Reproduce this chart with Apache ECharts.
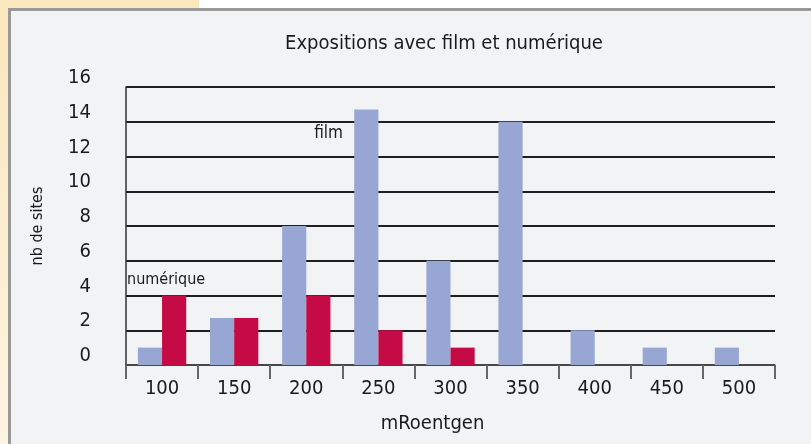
<!DOCTYPE html>
<html>
<head>
<meta charset="utf-8">
<script src="https://cdn.jsdelivr.net/npm/echarts@6/dist/echarts.min.js"></script>
<style>
    html, body {margin: 0; padding: 0;}
    body {width: 811px; height: 444px; position: relative; overflow: hidden;
        background: linear-gradient(#fae6bc, #fdf4e2);}
    .top-white {position: absolute; left: 199px; top: 0; width: 612px; height: 8px; background: #fff;}
    .frame {position: absolute; left: 8px; top: 8px; right: 0; bottom: 0;
        background: #f2f3f5; border-left: 3px solid #999; border-top: 3px solid #999;}
    #main {position: absolute; left: 0; top: 0; width: 811px; height: 444px;}
</style>
</head>
<body>
<div class="top-white"></div>
<div class="frame"></div>
<div id="main"></div>
<script>
    const categories = ['100', '150', '200', '250', '300', '350', '400', '450', '500'];
    const film = [1, 2.7, 8, 14.7, 6, 14, 2, 1, 1];
    const numerique = [4, 2.7, 4, 2, 1, 0, 0, 0, 0];
    const yTicks = {min: 0, max: 16, interval: 2};

    const font = "'DejaVu Sans Condensed', 'DejaVu Sans', sans-serif";
    const ink = '#1a1a1a';
    const myChart = echarts.init(document.getElementById('main'));
    myChart.setOption({
        backgroundColor: 'transparent',
        animation: false,
        title: {
            text: 'Expositions avec film et numérique',
            left: 439,
            top: 29,
            textAlign: 'center',
            textStyle: {fontFamily: font, fontSize: 20, fontWeight: 'normal', color: ink}
        },
        grid: {left: 126, right: 36, top: 87, bottom: 79},
        xAxis: {
            type: 'category',
            data: categories,
            name: 'mRoentgen',
            nameLocation: 'middle',
            nameGap: 49,
            nameTextStyle: {fontFamily: font, fontSize: 20, color: ink, padding: [0, 36, 0, 0]},
            axisLine: {lineStyle: {color: '#555', width: 1.5}},
            axisTick: {show: true, length: 14, lineStyle: {color: '#666', width: 2}},
            axisLabel: {fontFamily: font, fontSize: 20, color: ink, margin: 14},
            splitLine: {show: false}
        },
        yAxis: {
            type: 'value',
            min: yTicks.min,
            max: yTicks.max,
            interval: yTicks.interval,
            name: 'nb de sites',
            nameLocation: 'middle',
            nameGap: 80,
            nameTextStyle: {fontFamily: font, fontSize: 16, color: ink},
            axisLine: {show: true, lineStyle: {color: '#333', width: 1.5}},
            axisTick: {show: false},
            axisLabel: {fontFamily: font, fontSize: 20, color: ink, margin: 35,
                verticalAlign: 'bottom', lineHeight: 18},
            splitLine: {lineStyle: {color: '#1e1e1e', width: 2}}
        },
        series: [
            {
                name: 'film',
                type: 'bar',
                data: film,
                barGap: '0%',
                barCategoryGap: '33%',
                itemStyle: {color: '#98a6d4'}
            },
            {
                name: 'numérique',
                type: 'bar',
                data: numerique,
                barGap: '0%',
                barCategoryGap: '33%',
                itemStyle: {color: '#c50b46'}
            }
        ],
        graphic: [
            {type: 'text', right: 811 - 343, top: 125,
                style: {text: 'film', font: '17px ' + font, fill: ink}},
            {type: 'text', left: 127, top: 272,
                style: {text: 'numérique', font: '16px ' + font, fill: ink}}
        ]
    });
</script>
</body>
</html>
